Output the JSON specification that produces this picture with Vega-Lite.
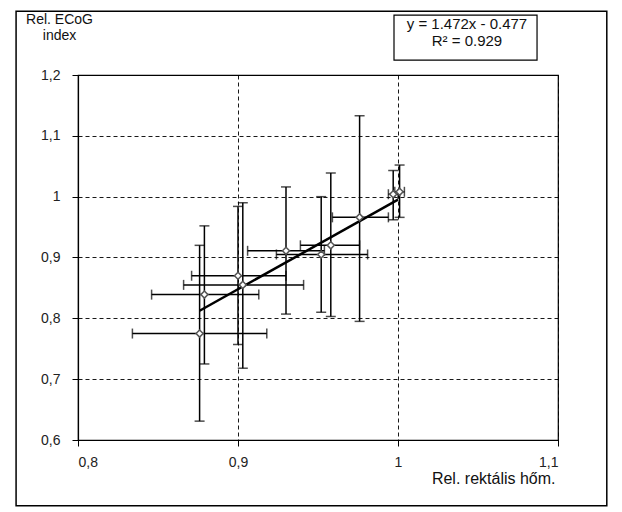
{
  "$schema": "https://vega.github.io/schema/vega-lite/v6.json",
  "width": 480,
  "height": 365,
  "autosize": "none",
  "padding": {"left": 78, "top": 75, "right": 64, "bottom": 72},
  "background": "white",
  "config": {
    "font": "Liberation Sans",
    "view": {"stroke": "black", "strokeWidth": 1.2},
    "axis": {
      "domainColor": "black",
      "domainWidth": 1.2,
      "tickColor": "black",
      "tickSize": 6,
      "labelFont": "Liberation Sans",
      "labelFontSize": 14,
      "labelColor": "#222",
      "titleFont": "Liberation Sans",
      "titleFontSize": 14,
      "titleFontWeight": "normal",
      "titleColor": "#111",
      "grid": true,
      "gridColor": "black",
      "gridDash": [4, 3],
      "gridWidth": 1,
      "gridOpacity": 0.9
    }
  },
  "datasets": {
    "pts": [
      {"x": 0.876, "y": 0.775, "xlo": 0.834, "xhi": 0.918, "ylo": 0.631, "yhi": 0.920},
      {"x": 0.879, "y": 0.839, "xlo": 0.846, "xhi": 0.913, "ylo": 0.725, "yhi": 0.952},
      {"x": 0.900, "y": 0.870, "xlo": 0.871, "xhi": 0.930, "ylo": 0.757, "yhi": 0.984},
      {"x": 0.903, "y": 0.855, "xlo": 0.866, "xhi": 0.941, "ylo": 0.718, "yhi": 0.990},
      {"x": 0.930, "y": 0.911, "xlo": 0.906, "xhi": 0.954, "ylo": 0.807, "yhi": 1.016},
      {"x": 0.952, "y": 0.905, "xlo": 0.924, "xhi": 0.981, "ylo": 0.810, "yhi": 1.000},
      {"x": 0.958, "y": 0.920, "xlo": 0.939, "xhi": 0.976, "ylo": 0.803, "yhi": 1.039},
      {"x": 0.976, "y": 0.966, "xlo": 0.959, "xhi": 0.994, "ylo": 0.795, "yhi": 1.133},
      {"x": 0.997, "y": 1.004, "xlo": 0.994, "xhi": 1.000, "ylo": 0.962, "yhi": 1.043},
      {"x": 1.001, "y": 1.008, "xlo": 0.998, "xhi": 1.004, "ylo": 0.966, "yhi": 1.052}
    ],
    "fit": [
      {"x": 0.876, "y": 0.8125},
      {"x": 1.0, "y": 0.995}
    ]
  },
  "layer": [
    {
      "data": {"name": "pts"},
      "mark": {"type": "errorbar", "ticks": {"size": 10, "color": "black", "thickness": 1.5}, "thickness": 1.5, "color": "black"},
      "encoding": {
        "x": {
          "field": "x", "type": "quantitative", "title": "Rel. rektális hőm.",
          "scale": {"domain": [0.8, 1.1], "nice": false, "zero": false},
          "axis": {
            "values": [0.8, 0.9, 1.0, 1.1],
            "labelExpr": "replace(format(datum.value, '~g'), '.', ',')",
            "labelPadding": 9,
            "titleAnchor": "end",
            "titleAlign": "right",
            "titleX": 477,
            "titleY": 38,
            "titleBaseline": "middle",
            "titleFontSize": 16
          }
        },
        "y": {
          "field": "ylo", "type": "quantitative", "title": ["Rel. ECoG", "index"],
          "scale": {"domain": [0.6, 1.2], "nice": false, "zero": false},
          "axis": {
            "values": [0.6, 0.7, 0.8, 0.9, 1.0, 1.1, 1.2],
            "labelExpr": "replace(format(datum.value, '~g'), '.', ',')",
            "labelPadding": 12,
            "titleAngle": 0,
            "titleAlign": "center",
            "titleBaseline": "top",
            "titleX": -19,
            "titleY": -63,
            "titleLineHeight": 16
          }
        },
        "y2": {"field": "yhi"}
      }
    },
    {
      "data": {"name": "pts"},
      "mark": {"type": "errorbar", "ticks": {"size": 10, "color": "black", "thickness": 1.5}, "thickness": 1.5, "color": "black"},
      "encoding": {
        "y": {"field": "y", "type": "quantitative", "title": ["Rel. ECoG", "index"], "scale": {"domain": [0.6, 1.2], "nice": false, "zero": false}},
        "x": {"field": "xlo", "type": "quantitative", "title": "Rel. rektális hőm.", "scale": {"domain": [0.8, 1.1], "nice": false, "zero": false}},
        "x2": {"field": "xhi"}
      }
    },
    {
      "data": {"name": "fit"},
      "mark": {"type": "line", "color": "black", "strokeWidth": 2.5},
      "encoding": {
        "x": {"field": "x", "type": "quantitative", "title": "Rel. rektális hőm.", "scale": {"domain": [0.8, 1.1], "nice": false, "zero": false}},
        "y": {"field": "y", "type": "quantitative", "title": ["Rel. ECoG", "index"], "scale": {"domain": [0.6, 1.2], "nice": false, "zero": false}}
      }
    },
    {
      "data": {"name": "pts"},
      "mark": {"type": "point", "shape": "diamond", "filled": false, "size": 50, "stroke": "#555", "strokeWidth": 1.5, "fill": "white", "fillOpacity": 1},
      "encoding": {
        "x": {"field": "x", "type": "quantitative", "title": "Rel. rektális hőm.", "scale": {"domain": [0.8, 1.1], "nice": false, "zero": false}},
        "y": {"field": "y", "type": "quantitative", "title": ["Rel. ECoG", "index"], "scale": {"domain": [0.6, 1.2], "nice": false, "zero": false}}
      }
    },
    {
      "data": {"values": [{}]},
      "mark": {"type": "rect", "fill": "white", "stroke": "black", "strokeWidth": 1.2, "clip": false},
      "encoding": {
        "x": {"datum": 0.9975, "type": "quantitative", "title": "Rel. rektális hőm.", "scale": {"domain": [0.8, 1.1], "nice": false, "zero": false}},
        "x2": {"datum": 1.0869},
        "y": {"datum": 1.2984, "type": "quantitative", "title": ["Rel. ECoG", "index"], "scale": {"domain": [0.6, 1.2], "nice": false, "zero": false}},
        "y2": {"datum": 1.2246}
      }
    },
    {
      "data": {"values": [{}]},
      "mark": {"type": "text", "fontSize": 15, "font": "Liberation Sans", "color": "#111", "lineHeight": 17, "align": "center", "baseline": "top"},
      "encoding": {
        "x": {"datum": 1.0431, "type": "quantitative", "title": "Rel. rektális hőm.", "scale": {"domain": [0.8, 1.1], "nice": false, "zero": false}},
        "y": {"datum": 1.2951, "type": "quantitative", "title": ["Rel. ECoG", "index"], "scale": {"domain": [0.6, 1.2], "nice": false, "zero": false}},
        "text": {"value": ["y = 1.472x - 0.477", "R² = 0.929"]}
      }
    },
    {
      "data": {"values": [{}]},
      "mark": {"type": "rect", "fill": null, "fillOpacity": 0, "stroke": "black", "strokeWidth": 1.5, "clip": false},
      "encoding": {
        "x": {"datum": 0.7613, "type": "quantitative", "title": "Rel. rektális hőm.", "scale": {"domain": [0.8, 1.1], "nice": false, "zero": false}},
        "x2": {"datum": 1.1305},
        "y": {"datum": 1.3049, "type": "quantitative", "title": ["Rel. ECoG", "index"], "scale": {"domain": [0.6, 1.2], "nice": false, "zero": false}},
        "y2": {"datum": 0.4918}
      }
    }
  ]
}
